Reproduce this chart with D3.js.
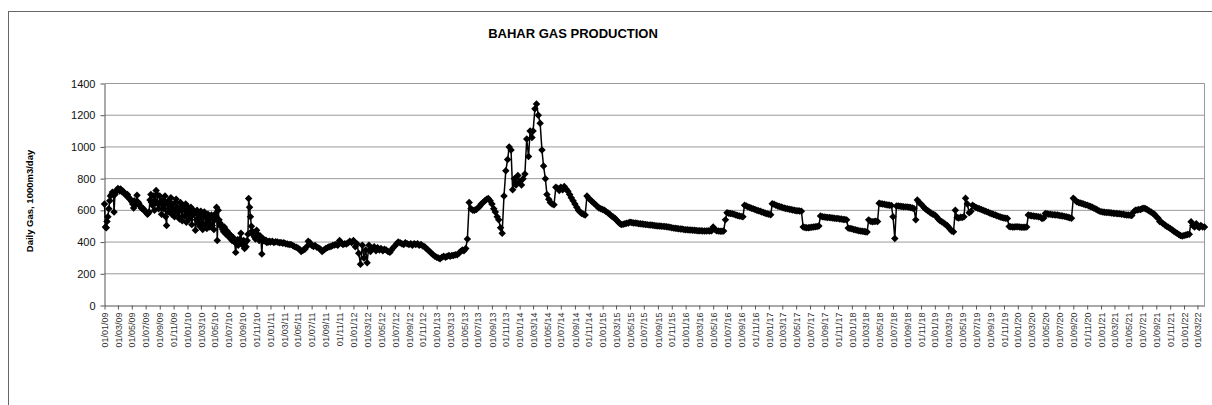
<!DOCTYPE html>
<html>
<head>
<meta charset="utf-8">
<script src="https://cdn.jsdelivr.net/npm/d3@7"></script>
<style>
  body { margin: 0; background: #fff; }
  svg { display: block; font-family: "Liberation Sans", Arial, sans-serif; }
</style>
</head>
<body>
<div id="chart"></div>
<script>
// Daily gas, 1000 m3/day. k = points per month in each year's list
const gas2009 = [640,495,490,530,560,610,660,690, 700,715,705,590,700,720,725,730,
                 738,730,722,735,728,715,720,712, 705,698,690,700,685,675,670,665,
                 655,640,615,660,645,640,695,655, 645,630,625,615,610,612,600,598,
                 592,585,575,580,590,665,700,650, 630,690,600,660,725,700,640,610,
                 690,650,575,640,665,610,690,560, 505,640,660,590,620,680,575,640,
                 610,560,650,670,590,620,560,545, 650,600,535,630,610,565,640,525];
const gas2010 = [625,580,545,600,620,510,570,600, 580,475,540,600,520,570,500,590,
                 595,520,480,560,590,510,570,485, 575,520,495,550,570,505,560,480,
                 540,580,620,410,600,540,520,500, 505,480,465,495,480,450,470,440,
                 455,430,445,420,410,430,405,400, 335,400,415,380,400,420,455,395,
                 380,410,360,395,370,410,450,675, 620,560,500,470,450,440,430,420,
                 475,450,425,410,440,420,325,405, 420,410,405,412,398,402,400,405];
const gas2011 = [400,405,398,402, 400,395,398,392, 395,390,388,385, 385,378,372,368,
                 362,355,340,348, 355,370,405,395, 380,372,378,368, 362,355,340,350,
                 360,365,370,372, 378,382,385,380, 410,392,385,390, 388,395,405,398];
const gas2012 = [410,370,390,330, 260,380,300,350, 270,380,340,360, 370,345,365,350,
                 360,345,355,350, 340,335,350,365, 375,390,400,395, 390,385,395,390,
                 385,390,380,390, 385,390,380,385, 375,370,360,350, 340,330,320,310];
const gas2013 = [305,300,295,305, 310,305,310,315, 310,315,315,320, 320,330,340,350,
                 345,360,420,650, 610,600,600,605, 615,625,640,650, 660,670,675,660,
                 640,610,590,560, 540,490,455,690, 850,920,1000,980, 730,800,760,820];
const gas2014 = [780,760,800,830, 1050,940,1100,1060, 1100,1240,1270,1200, 1150,980,880,800,
                 700,670,650,640, 635,745,740,725, 745,730,750,735, 720,700,680,660,
                 640,620,600,590, 580,575,570,690, 675,665,655,645, 635,625,615,610];
const gas2015 = [605,600,592,585, 575,565,558,550, 540,530,518,510, 512,515,518,520,
                 525,523,520,520, 518,516,515,514, 512,511,510,508, 507,506,505,503,
                 502,501,500,499, 498,496,495,493, 490,488,487,486, 484,483,482,480];
const gas2016 = [478,477,476,476, 475,474,473,472, 472,471,470,470, 470,471,470,472,
                 495,480,472,470, 468,468,470,540, 585,582,580,578, 575,570,568,565,
                 562,560,632,628, 622,618,614,610, 605,600,597,594, 590,586,582,578];
const gas2017 = [575,572,642,638, 632,628,625,622, 618,615,612,610, 607,605,602,600,
                 598,597,596,594, 495,492,490,490, 492,494,495,496, 498,502,565,560,
                 558,556,555,555, 553,552,550,549, 548,546,545,543, 542,540,488,486];
const gas2018 = [484,480,478,475, 472,470,468,466, 465,464,540,532, 528,530,532,530,
                 645,642,640,638, 636,634,632,630, 560,422,628,627, 626,625,623,622,
                 622,620,618,615, 612,540,665,650, 640,628,615,605, 598,590,582,575];
const gas2019 = [570,560,545,535, 528,520,512,505, 495,482,470,465, 600,555,552,556,
                 555,560,676,640, 585,595,632,625, 618,614,610,606, 600,596,592,588,
                 582,578,574,570, 566,562,558,555, 552,550,548,498, 496,495,495,497];
const gas2020 = [496,495,494,494, 493,495,570,568, 566,565,563,562, 560,558,548,552,
                 580,578,576,575, 573,572,571,570, 568,566,564,562, 560,557,554,550,
                 676,665,655,650, 646,643,640,636, 633,628,624,620, 614,608,602,596];
const gas2021 = [592,590,588,587, 586,585,584,582, 581,580,579,578, 576,575,573,571,
                 570,569,568,590, 600,602,605,606, 612,614,610,604, 596,590,582,575,
                 560,550,530,525, 515,508,500,494, 485,478,470,462, 455,448,442,438];
const gas2022 = [442,445,448,450, 528,505,495,515, 500,492,505,495, 495];

const years = [
  [2009, 8, gas2009], [2010, 8, gas2010], [2011, 4, gas2011], [2012, 4, gas2012],
  [2013, 4, gas2013], [2014, 4, gas2014], [2015, 4, gas2015], [2016, 4, gas2016],
  [2017, 4, gas2017], [2018, 4, gas2018], [2019, 4, gas2019], [2020, 4, gas2020],
  [2021, 4, gas2021], [2022, 4, gas2022]
];

const yTicks = [0, 200, 400, 600, 800, 1000, 1200, 1400];
const dateStart = new Date(2009, 0, 1);
const dateEnd = new Date(2022, 3, 1);
const chartTitle = "BAHAR GAS PRODUCTION";
const yTitle = "Daily Gas, 1000m3/day";

// spread each year's readings evenly through the month
const data = [];
years.forEach(([year, k, vals]) => {
  vals.forEach((v, i) => {
    const month = Math.floor(i / k);
    const day = 1 + Math.round((i % k) * 30 / k);
    data.push({ date: new Date(year, month, day), value: v });
  });
});

const W = 1212, H = 405;
const svg = d3.select("#chart").append("svg")
  .attr("width", W).attr("height", H);

// outer chart frame (runs off the bottom/right of the window)
svg.append("rect")
  .attr("x", 8.5).attr("y", 11.5)
  .attr("width", 1220).attr("height", 420)
  .attr("fill", "#fff").attr("stroke", "#666");

const x = d3.scaleTime().domain([dateStart, dateEnd]).range([104.5, 1204.5]);
const y = d3.scaleLinear().domain([0, 1400]).range([305.5, 83.5]);

// grid
svg.append("g")
  .selectAll("line")
  .data(yTicks.filter(d => d > 0))
  .join("line")
  .attr("x1", x.range()[0]).attr("x2", x.range()[1])
  .attr("y1", d => y(d)).attr("y2", d => y(d))
  .attr("stroke", "#9a9a9a");

svg.append("line")
  .attr("x1", x.range()[1]).attr("x2", x.range()[1])
  .attr("y1", y(1400)).attr("y2", y(0))
  .attr("stroke", "#9a9a9a");

// y axis
const yAxis = svg.append("g")
  .attr("transform", `translate(${x.range()[0]},0)`)
  .call(d3.axisLeft(y).tickValues(yTicks).tickFormat(d3.format("d"))
    .tickSize(4).tickSizeOuter(0).tickPadding(5));
yAxis.select(".domain").attr("stroke", "#555");
yAxis.selectAll(".tick line").attr("stroke", "#555");
yAxis.selectAll("text").attr("font-size", "11px").attr("fill", "#111")
  .attr("font-family", "Liberation Sans, Arial, sans-serif");

// x axis
const xAxis = svg.append("g")
  .attr("transform", `translate(0,${y(0)})`)
  .call(d3.axisBottom(x)
    .ticks(d3.timeMonth.every(2))
    .tickFormat(d3.timeFormat("%d/%m/%y"))
    .tickSize(4).tickSizeOuter(0));
xAxis.select(".domain").attr("stroke", "#555");
xAxis.selectAll(".tick line").attr("stroke", "#555");
xAxis.selectAll("text")
  .attr("font-size", "9px").attr("fill", "#333")
  .attr("font-family", "Liberation Sans, Arial, sans-serif")
  .attr("transform", "rotate(-90)")
  .attr("x", -7).attr("y", 0).attr("dy", "0.35em")
  .style("text-anchor", "end");

// series line + diamond markers
const line = d3.line().x(d => x(d.date)).y(d => y(d.value));
svg.append("path")
  .datum(data)
  .attr("d", line)
  .attr("fill", "none")
  .attr("stroke", "#000")
  .attr("stroke-width", 1.5);

const diamond = d3.symbol().type(d3.symbolSquare).size(28);
svg.append("g")
  .selectAll("path")
  .data(data)
  .join("path")
  .attr("d", diamond)
  .attr("transform", d => `translate(${x(d.date)},${y(d.value)}) rotate(45)`)
  .attr("fill", "#000");

// titles
svg.append("text")
  .attr("x", 573).attr("y", 38)
  .attr("text-anchor", "middle")
  .attr("font-size", "13px").attr("font-weight", "bold")
  .text(chartTitle);

svg.append("text")
  .attr("transform", "translate(32.5,201) rotate(-90)")
  .attr("text-anchor", "middle")
  .attr("font-size", "9.5px").attr("font-weight", "bold")
  .text(yTitle);
</script>
</body>
</html>
